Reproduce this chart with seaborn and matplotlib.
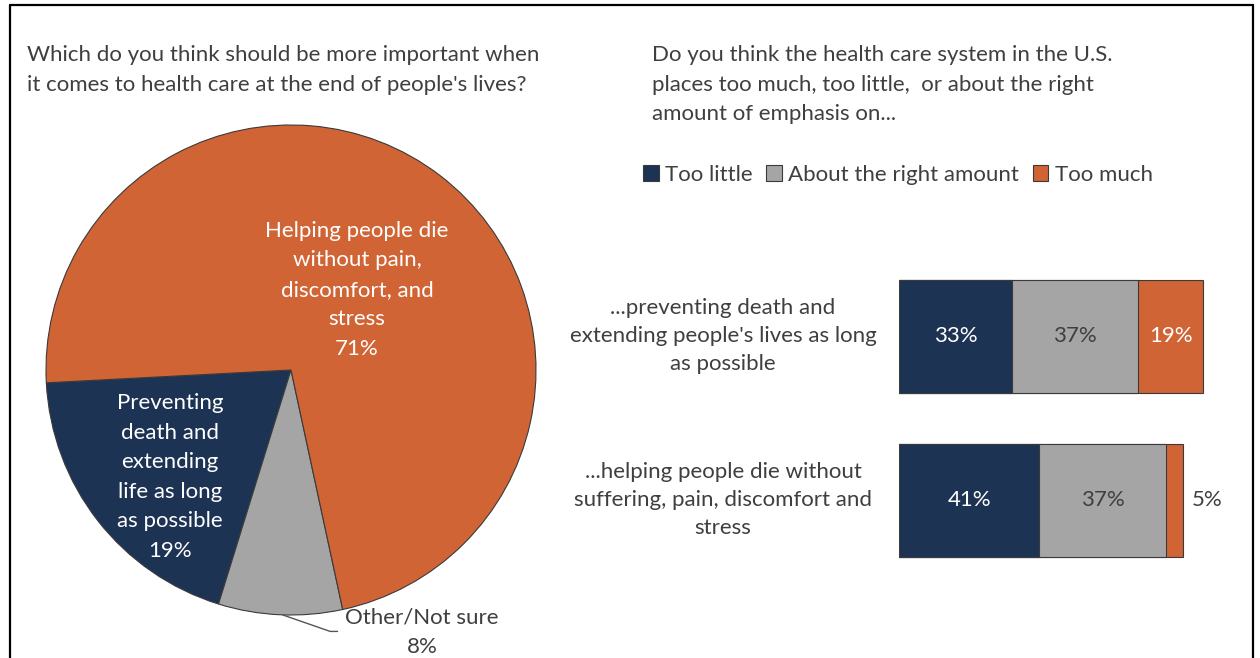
import matplotlib
matplotlib.use("Agg")
import matplotlib.pyplot as plt
from matplotlib.patches import Patch
from matplotlib.lines import Line2D
import seaborn as sns
import pandas as pd

# ---------------- data ----------------
pie_labels = ["Preventing\ndeath and\nextending\nlife as long\nas possible", "Other/Not sure",
              "Helping people die\nwithout pain,\ndiscomfort, and\nstress"]
pie_values = [19, 8, 71]

bar_categories = ["...preventing death and\nextending people's lives as long\nas possible",
                  "...helping people die without\nsuffering, pain, discomfort and\nstress"]
series_names = ["Too little", "About the right amount", "Too much"]
too_little = [33, 41]
about_right = [37, 37]
too_much = [19, 5]

left_title = "Which do you think should be more important when\nit comes to health care at the end of people's lives?"
right_title = ("Do you think the health care system in the U.S.\nplaces too much, too little,  or about the right\n"
               "amount of emphasis on...")

# ---------------- style ----------------
NAVY = "#1D3354"
GRAY = "#A5A5A5"
ORANGE = "#D06435"
TXT = "#3F3F3F"
EDGE = "#3a3a3a"

sns.set_theme(style="white")
plt.rcParams["font.family"] = ["Lato", "DejaVu Sans"]
FS = 16
LS = 1.6

W, H = 1260, 658
fig = plt.figure(figsize=(W / 100, H / 100), dpi=100)


def fx(px):
    return px / W


def fy(py):
    return 1 - py / H


# ---------------- pie ----------------
cx, cy, R = 291, 370, 245
pax = fig.add_axes([fx(cx - R), fy(cy + R), 2 * R / W, 2 * R / H])
pax.pie(pie_values, colors=[NAVY, GRAY, ORANGE], startangle=183, counterclock=True,
        wedgeprops=dict(edgecolor=EDGE, linewidth=0.8))
pax.set_xlim(-1, 1)
pax.set_ylim(-1, 1)
pax.set_aspect("equal")
pax.axis("off")

pax.text(0.269, 0.327, f"{pie_labels[2]}\n{pie_values[2]}%", color="white", fontsize=FS,
         ha="center", va="center", multialignment="center", linespacing=LS)
pax.text(-0.494, -0.437, f"{pie_labels[0]}\n{pie_values[0]}%", color="white", fontsize=FS,
         ha="center", va="center", multialignment="center", linespacing=LS)
pax.text(0.535, -1.07, f"{pie_labels[1]}\n{pie_values[1]}%", color=TXT, fontsize=FS,
         ha="center", va="center", multialignment="center", linespacing=LS, clip_on=False)
pax.plot([-0.033, 0.16, 0.19], [-1.0, -1.067, -1.067], color="#555555", lw=1.0, clip_on=False)

# ---------------- stacked bars ----------------
x0, ppu = 899, 3.42
row0, row1 = 336.5, 500
step = row1 - row0
top = row0 - step / 2
bot = row1 + step / 2
bax = fig.add_axes([fx(x0), fy(bot), 100 * ppu / W, (bot - top) / H])

df = pd.DataFrame({"cat": bar_categories, "little": too_little, "right": about_right, "much": too_much})
df["c1"] = df["little"]
df["c2"] = df["little"] + df["right"]
df["c3"] = df["c2"] + df["much"]

bar_h = 113 / step
for col, colr in [("c3", ORANGE), ("c2", GRAY), ("c1", NAVY)]:
    sns.barplot(data=df, x=col, y="cat", orient="h", color=colr, ax=bax, width=bar_h,
                edgecolor=EDGE, linewidth=0.8, saturation=1)

bax.set_xlim(0, 100)
bax.set_ylim(1.5, -0.5)
bax.axis("off")

for i in range(len(bar_categories)):
    bax.text(too_little[i] / 2, i, f"{too_little[i]}%", color="white", fontsize=FS, ha="center", va="center")
    bax.text(too_little[i] + about_right[i] / 2, i, f"{about_right[i]}%", color=TXT, fontsize=FS,
             ha="center", va="center")
    end = too_little[i] + about_right[i] + too_much[i]
    if too_much[i] >= 10:
        bax.text(end - too_much[i] / 2, i, f"{too_much[i]}%", color="white", fontsize=FS,
                 ha="center", va="center")
    else:
        bax.text(end + 2.5, i, f"{too_much[i]}%", color=TXT, fontsize=FS, ha="left", va="center")
    bax.text((723 - x0) / (100 * ppu), i, bar_categories[i], transform=bax.get_yaxis_transform(),
             color=TXT, fontsize=FS, ha="center", va="center", multialignment="center", linespacing=1.5)

# ---------------- titles / legend ----------------
fig.text(fx(27), fy(45), left_title, color=TXT, fontsize=FS, ha="left", va="top", linespacing=1.65)
fig.text(fx(652), fy(45), right_title, color=TXT, fontsize=FS, ha="left", va="top", linespacing=1.6)

handles = [Patch(facecolor=c, edgecolor=EDGE, linewidth=0.8, label=n)
           for c, n in zip([NAVY, GRAY, ORANGE], series_names)]
fig.legend(handles=handles, loc="center left", bbox_to_anchor=(fx(623), fy(175)), ncol=3, frameon=False,
           fontsize=FS, handlelength=0.7, handleheight=0.7, handletextpad=0.3, columnspacing=0.6,
           labelcolor=TXT)

# ---------------- frame ----------------
lw = 1.6
fig.add_artist(Line2D([fx(10), fx(1253)], [fy(5), fy(5)], color="black", lw=lw))
fig.add_artist(Line2D([fx(10), fx(10)], [fy(5), 0], color="black", lw=lw))
fig.add_artist(Line2D([fx(1253), fx(1253)], [fy(5), 0], color="black", lw=lw))

fig.savefig("out.png", dpi=100)
